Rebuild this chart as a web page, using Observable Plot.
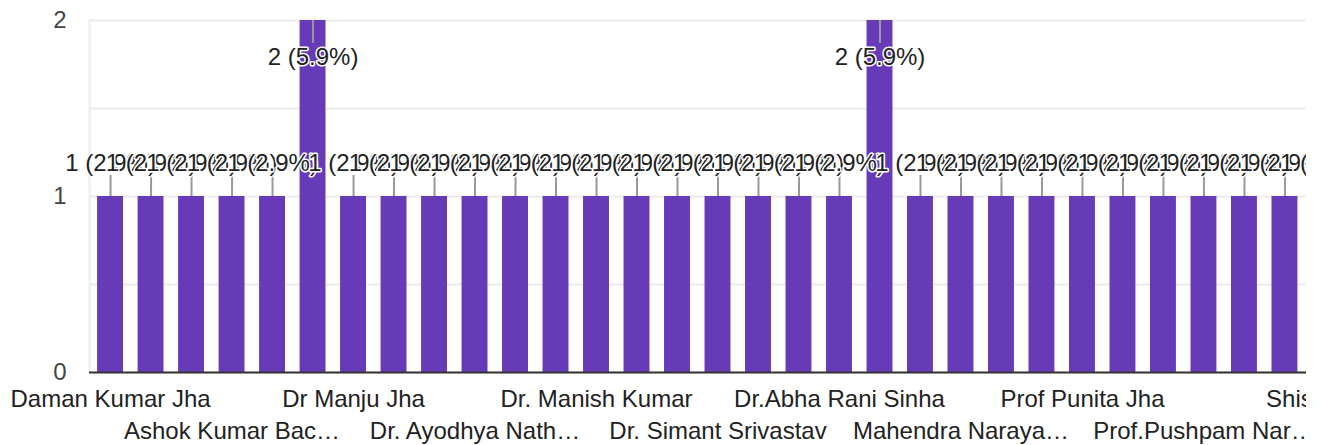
<!DOCTYPE html>
<html>
<head>
<meta charset="utf-8">
<script src="https://cdn.jsdelivr.net/npm/d3@7"></script>
<script src="https://cdn.jsdelivr.net/npm/@observablehq/plot@0.6"></script>
<style>
  html, body { margin: 0; padding: 0; background: #fff; overflow: hidden; }
  #clip { width: 1306px; height: 445px; overflow: hidden; }
  #clip svg { max-width: none !important; }
</style>
</head>
<body>
<div id="clip"></div>
<script>
// Respondent names as shown on the axis (only every third is printed; others hidden)
const names = [
  "Daman Kumar Jha", "", "", "Ashok Kumar Bac…", "", "",
  "Dr Manju Jha", "", "", "Dr. Ayodhya Nath…", "", "",
  "Dr. Manish Kumar", "", "", "Dr. Simant Srivastav", "", "",
  "Dr.Abha Rani Sinha", "", "", "Mahendra Naraya…", "", "",
  "Prof Punita Jha", "", "", "Prof.Pushpam Nar…", "", "",
  "Shishir Jha", ""
];
const counts = [
  1, 1, 1, 1, 1, 2, 1, 1, 1, 1, 1, 1, 1, 1, 1, 1,
  1, 1, 1, 2, 1, 1, 1, 1, 1, 1, 1, 1, 1, 1, 1, 1
];
const yTicks = [0, 1, 2];

const total = d3.sum(counts);
const yMax = d3.max(counts);
const data = counts.map((v, i) => ({
  i, v,
  label: `${v} (${(v / total * 100).toFixed(1)}%)`,
  top: v >= yMax
}));
const low = data.filter(d => !d.top);
const high = data.filter(d => d.top);
const idx = d3.range(counts.length);

const font = "'Liberation Sans', Arial, sans-serif";

const chart = Plot.plot({
  width: 1400,
  height: 445,
  marginLeft: 89,
  marginRight: 13.5,
  marginTop: 20,
  marginBottom: 73,
  style: { fontFamily: font, fontSize: "24px", background: "#fff", maxWidth: "none" },
  x: { type: "band", domain: idx, paddingInner: 0.36, paddingOuter: 0.2, align: 0.5, round: false, axis: null },
  y: { domain: [0, yMax], axis: null, label: null },
  marks: [
    Plot.gridY([0, 0.5, 1, 1.5, 2], { stroke: "#ebebeb", strokeOpacity: 1, strokeWidth: 2 }),
    Plot.frame({ anchor: "left", stroke: "#ebebeb", strokeWidth: 2 }),
    Plot.barY(data, { x: "i", y: "v", fill: "#673ab7" }),
    Plot.ruleY([0], { stroke: "#333", strokeWidth: 2 }),
    Plot.ruleX(low, { x: "i", y1: "v", y2: d => d.v + 0.12, stroke: "#999", strokeWidth: 2 }),
    Plot.ruleX(high, { x: "i", y1: "v", y2: d => d.v - 0.13, stroke: "#999", strokeWidth: 2 }),
    Plot.text(low, { x: "i", y: "v", text: "label", dy: -33, fill: "#222", stroke: "white", strokeWidth: 3, fontSize: 24 }),
    Plot.text(high, { x: "i", y: "v", text: "label", dy: 37, fill: "#222", stroke: "white", strokeWidth: 3, fontSize: 24 }),
    Plot.axisY({ ticks: yTicks, tickSize: 0, tickPadding: 23, fontSize: 24, color: "#444", label: null, tickFormat: d => String(d) }),
    Plot.axisX({ ticks: idx.filter(i => i % 6 === 0), tickSize: 0, tickPadding: 17, fontSize: 24, color: "#222", label: null, tickFormat: i => names[i] }),
    Plot.axisX({ ticks: idx.filter(i => i % 6 === 3), tickSize: 0, tickPadding: 49, fontSize: 24, color: "#222", label: null, tickFormat: i => names[i] })
  ]
});
document.getElementById("clip").appendChild(chart);
</script>
</body>
</html>
